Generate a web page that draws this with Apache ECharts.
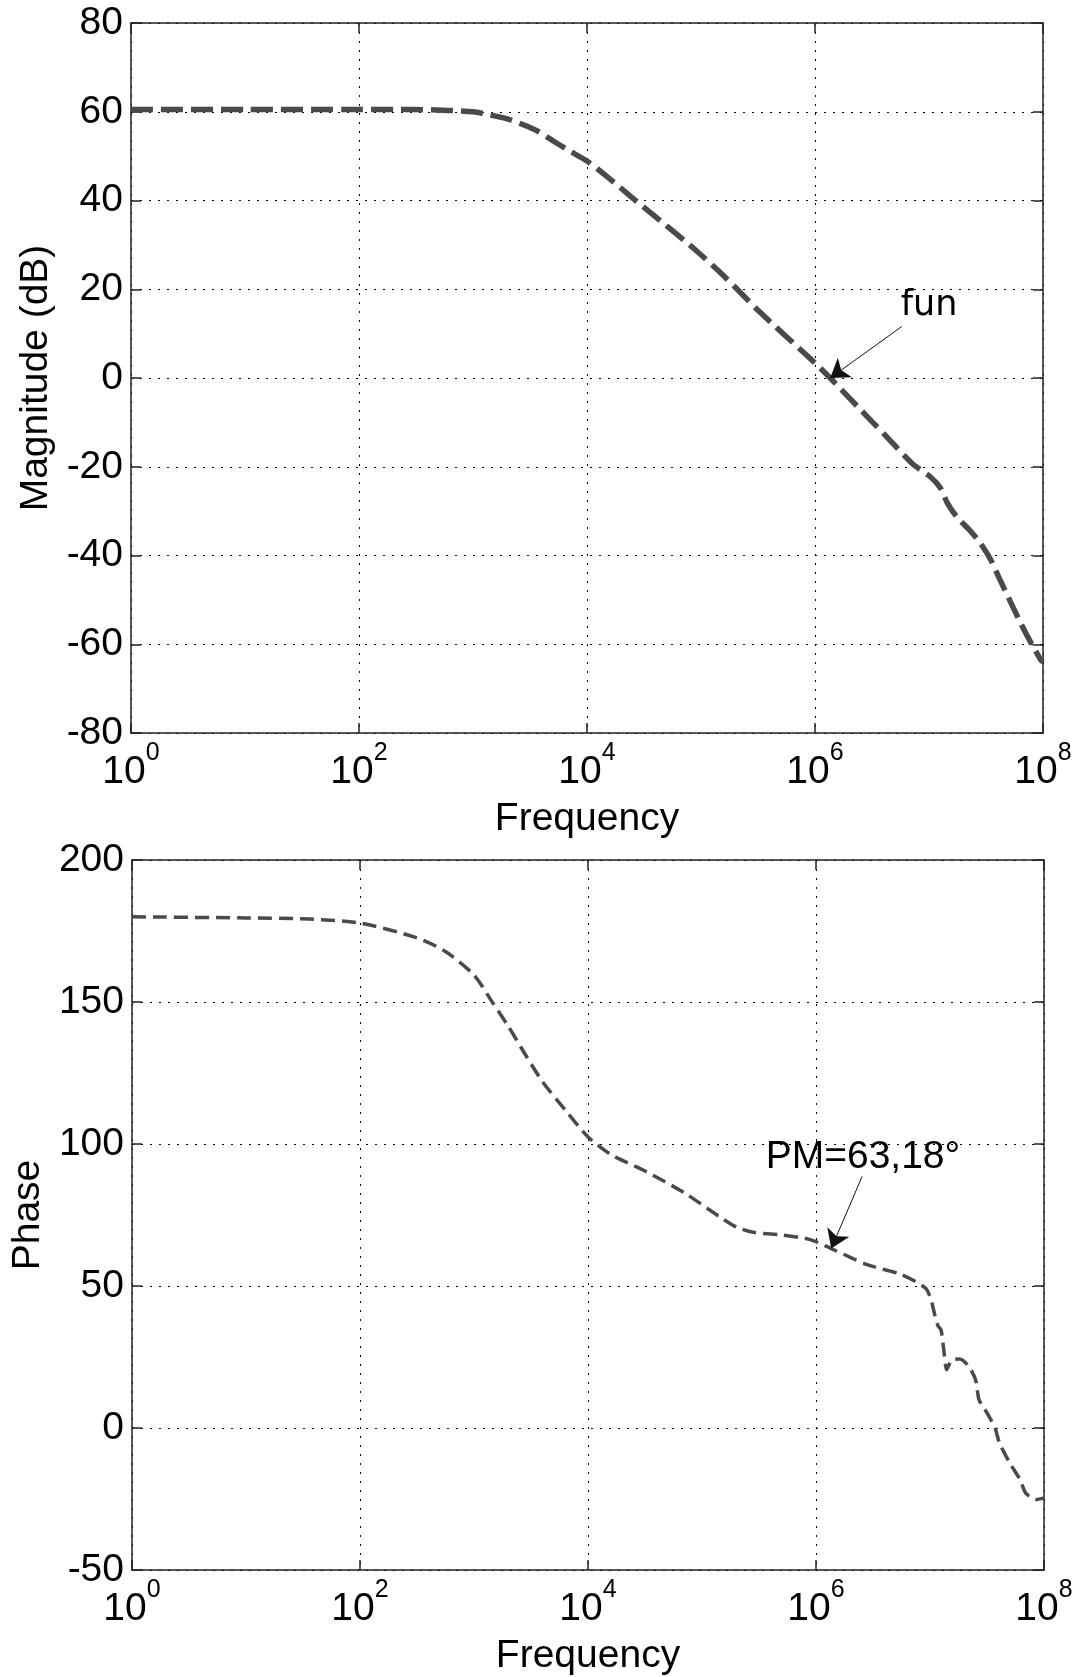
<!DOCTYPE html>
<html>
<head>
<meta charset="utf-8">
<script src="https://cdn.jsdelivr.net/npm/echarts@6/dist/echarts.min.js"></script>
<style>
  html, body { margin: 0; padding: 0; background: #ffffff; }
  #chart { width: 1080px; height: 1677px; }
</style>
</head>
<body>
<div id="chart"></div>
<script>
// Open-loop Bode response: magnitude (dB) and phase (deg) against frequency.
const magFreq = [1, 10, 100, 300, 600, 1000, 1400, 2000, 2800, 3700, 5000, 7000, 10000, 15000,
  25000, 40000, 89000, 166000, 330000, 1000000, 1360000, 3100000, 4100000, 7200000, 10200000,
  12600000, 14500000, 17400000, 22900000, 28200000, 34700000, 42000000, 61700000, 75900000,
  95500000, 100000000];
const magDb = [60.5, 60.5, 60.5, 60.5, 60.3, 60.0, 59.3, 58.4, 57.0, 55.6, 53.5, 51.2, 48.9, 45.4,
  40.6, 36.3, 28.9, 22.5, 14.8, 3.4, 0, -9.6, -12.8, -19.4, -22.2,
  -24.8, -28.2, -31.2, -34.4, -37.2, -40.9, -45.5, -54.5, -59.0,
  -63.5, -64.0];

const phaseFreq = [1, 10, 36, 100, 316, 562, 1000, 1445, 1995, 2818, 3981, 6310, 10000, 15850,
  31620, 70800, 141000, 200000, 282000, 500000, 794000, 1000000, 1360000, 2820000, 5620000,
  9120000, 10200000, 11100000, 11750000, 12500000, 13100000, 14000000, 15000000, 15800000,
  18200000, 21900000, 25100000, 26900000, 31600000, 37200000, 40700000, 50100000, 61700000,
  69200000, 85100000, 100000000];
const phaseDeg = [180, 179.6, 179.2, 177.8, 172.6, 167.8, 159.5, 150, 141.5, 131.5, 122, 112, 102.5, 96.3,
  90.5, 82.7, 74.5, 70.8, 68.9, 68.0, 66.8, 65.6, 63.18, 57.5, 54,
  49.3, 45.2, 39.3, 36, 34.5, 28.7, 20.5, 23.0, 24.0,
  24.3, 21.7, 17, 10, 5.3, 0, -5.3, -12.3, -18.2,
  -22.9, -25.2, -24.6];

// Gain crossover, where the phase margin is read.
const crossFreq = 1360000;
const crossMag = 0;
const phaseMargin = 63.18;

// Tick exponents on the frequency axis (10^0 ... 10^8, every second decade).
const freqExponents = [0, 2, 4, 6, 8];
const magTicks = [-80, -60, -40, -20, 0, 20, 40, 60, 80];
const phaseTicks = [-50, 0, 50, 100, 150, 200];

// Annotation anchors, in data units.
const funLabelAt = [1.0e7, 16.3];
const funArrowFrom = [5.77e6, 11.6];
const pmLabelAt = [2.58e6, 95.3];
const pmArrowFrom = [2.54e6, 88.6];

const FONT = '"Liberation Sans", Arial, sans-serif';
const AXIS_COLOR = '#222222';
const CURVE_COLOR = '#4a4a4a';

function pairs(xs, ys) { return xs.map((x, i) => [x, ys[i]]); }

function freqAxis(gridIndex, position, main) {
  const lo = Math.pow(10, freqExponents[0]);
  const hi = Math.pow(10, freqExponents[freqExponents.length - 1]);
  return {
    type: 'log', logBase: 10, gridIndex, position,
    min: lo, max: hi, interval: freqExponents[1] - freqExponents[0],
    name: main ? 'Frequency' : '',
    nameLocation: 'middle', nameGap: 67,
    nameTextStyle: { fontFamily: FONT, fontSize: 39, color: '#000' },
    axisLine: { show: true, onZero: false, lineStyle: { color: AXIS_COLOR, width: 1.5 } },
    axisTick: { show: true, inside: true, length: 10, lineStyle: { color: AXIS_COLOR, width: 1.5 } },
    minorTick: { show: false },
    axisLabel: {
      show: main, margin: 8,
      fontFamily: FONT, fontSize: 39, color: '#000',
      formatter: v => '{b|10}{s|' + Math.round(Math.log10(v)) + '}',
      rich: {
        b: { fontFamily: FONT, fontSize: 39, lineHeight: 62, color: '#000' },
        s: { fontFamily: FONT, fontSize: 25, lineHeight: 25, verticalAlign: 'top', color: '#000' }
      }
    },
    splitLine: { show: main, lineStyle: { color: '#000', width: 1, type: [2, 7] } }
  };
}

function valueAxis(gridIndex, position, ticks, title, main, nameGap) {
  return {
    type: 'value', gridIndex, position,
    min: ticks[0], max: ticks[ticks.length - 1], interval: ticks[1] - ticks[0],
    name: main ? title : '',
    nameLocation: 'middle', nameGap, nameRotate: 90,
    nameTextStyle: { fontFamily: FONT, fontSize: 39, color: '#000' },
    axisLine: { show: true, onZero: false, lineStyle: { color: AXIS_COLOR, width: 1.5 } },
    axisTick: { show: true, inside: true, length: 10, lineStyle: { color: AXIS_COLOR, width: 1.5 } },
    axisLabel: { show: main, margin: 8, fontFamily: FONT, fontSize: 39, color: '#000' },
    splitLine: { show: main, lineStyle: { color: '#000', width: 1, type: [2, 7] } }
  };
}

function arrow(from, to) {
  return {
    silent: true,
    symbol: ['none', 'arrow'],
    symbolSize: 18,
    label: { show: false },
    lineStyle: { color: '#111', width: 1, type: 'solid' },
    itemStyle: { color: '#000' },
    data: [[{ coord: from }, { coord: to }]],
    animation: false
  };
}

function note(at, text, family, size) {
  return {
    silent: true,
    symbol: 'circle', symbolSize: 1,
    itemStyle: { color: 'rgba(0,0,0,0)' },
    label: { show: true, position: 'inside', formatter: text, fontFamily: family, fontSize: size, color: '#000' },
    data: [{ coord: at }],
    animation: false
  };
}

const pmText = 'PM=' + String(phaseMargin).replace('.', ',') + '\u00b0';

const option = {
  animation: false,
  backgroundColor: '#ffffff',
  grid: [
    { left: 131, top: 23, width: 912, height: 710, containLabel: false },
    { left: 132, top: 860, width: 912, height: 710, containLabel: false }
  ],
  xAxis: [
    freqAxis(0, 'bottom', true), freqAxis(0, 'top', false),
    freqAxis(1, 'bottom', true), freqAxis(1, 'top', false)
  ],
  yAxis: [
    valueAxis(0, 'left', magTicks, 'Magnitude (dB)', true, 74), valueAxis(0, 'right', magTicks, '', false, 0),
    valueAxis(1, 'left', phaseTicks, 'Phase', true, 84), valueAxis(1, 'right', phaseTicks, '', false, 0)
  ],
  series: [
    {
      name: 'fun', type: 'line', xAxisIndex: 0, yAxisIndex: 0,
      data: pairs(magFreq, magDb),
      showSymbol: false, smooth: 0.25,
      lineStyle: { color: CURVE_COLOR, width: 5.5, type: [22, 8] },
      markLine: arrow(funArrowFrom, [crossFreq, crossMag]),
      markPoint: note(funLabelAt, 'fun', '"DejaVu Sans", Verdana, sans-serif', 35)
    },
    {
      name: 'phase', type: 'line', xAxisIndex: 2, yAxisIndex: 2,
      data: pairs(phaseFreq, phaseDeg),
      showSymbol: false, smooth: 0.25,
      lineStyle: { color: CURVE_COLOR, width: 3.5, type: [14, 7] },
      markLine: arrow(pmArrowFrom, [crossFreq, phaseMargin]),
      markPoint: note(pmLabelAt, pmText, FONT, 39)
    }
  ]
};

const chart = echarts.init(document.getElementById('chart'), null, { renderer: 'canvas' });
chart.setOption(option);
</script>
</body>
</html>
